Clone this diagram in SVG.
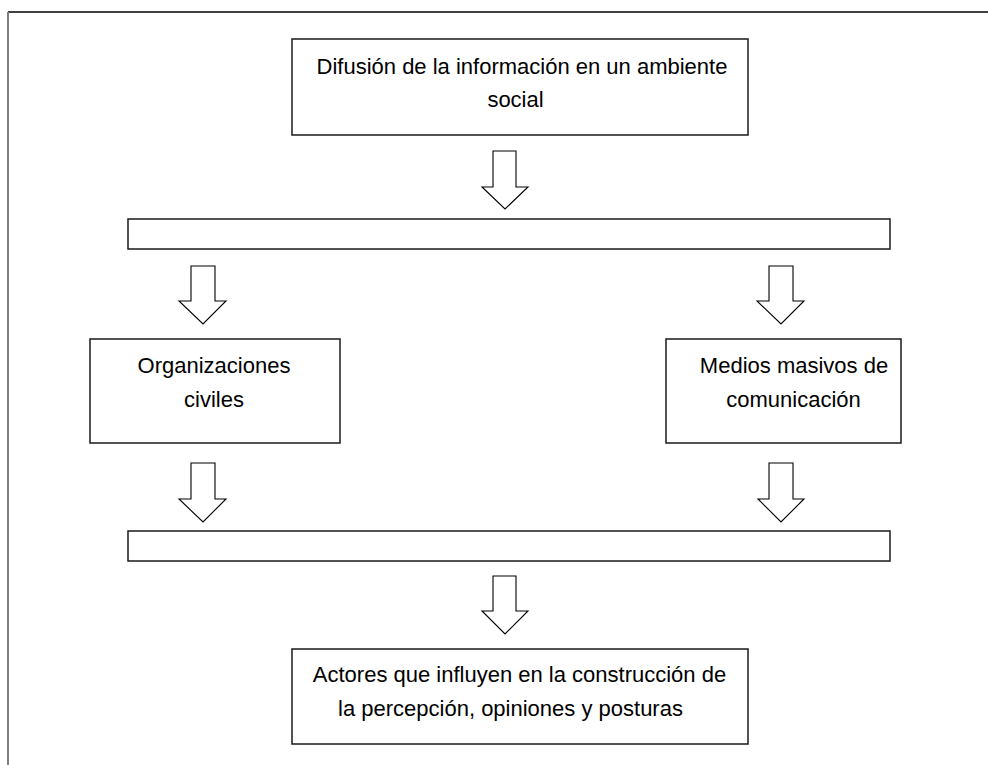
<svg xmlns="http://www.w3.org/2000/svg" width="988" height="765" viewBox="0 0 988 765">
<style>
.box{fill:#fff;stroke:#1a1a1a;stroke-width:1.5}
.arr{fill:#fff;stroke:#000;stroke-width:1.1;stroke-linejoin:miter}
.t{font-family:"Liberation Sans",Arial,sans-serif;font-size:22px;fill:#000;text-anchor:middle}
</style>
<rect width="988" height="765" fill="#fff"/>
<g id="frame">
<line x1="8" y1="12" x2="988" y2="12" stroke="#000" stroke-width="1.5"/>
<line x1="8" y1="12" x2="8" y2="765" stroke="#808080" stroke-width="2"/>
</g>
<g id="connectors">
<polygon class="arr" points="493,151 516,151 516,187 528,187 505,209 482,187 493,187"/>
<polygon class="arr" points="191,266 215,266 215,301 226,301 203,324 179,301 191,301"/>
<polygon class="arr" points="769,266 793,266 793,301 804,301 781,324 757,301 769,301"/>
<polygon class="arr" points="191,463 215,463 215,499 226,499 203,522 179,499 191,499"/>
<polygon class="arr" points="769,463 793,463 793,499 804,499 781,522 758,499 769,499"/>
<polygon class="arr" points="493,576 516,576 516,611 528,611 505,634 482,611 493,611"/>
</g>
<g id="node-difusion">
<rect class="box" x="292" y="39" width="456" height="96"/>
<text class="t" x="522" y="74">Difusión de la información en un ambiente</text>
<text class="t" x="515.5" y="107">social</text>
</g>
<g id="node-bar1">
<rect class="box" x="128" y="219" width="762" height="30"/>
</g>
<g id="node-organizaciones">
<rect class="box" x="90" y="339" width="250" height="104"/>
<text class="t" x="214" y="373">Organizaciones</text>
<text class="t" x="214" y="407">civiles</text>
</g>
<g id="node-medios">
<rect class="box" x="666" y="339" width="235" height="104"/>
<text class="t" x="794" y="373">Medios masivos de</text>
<text class="t" x="793.5" y="407">comunicación</text>
</g>
<g id="node-bar2">
<rect class="box" x="128" y="531" width="762" height="30"/>
</g>
<g id="node-actores">
<rect class="box" x="292" y="649" width="456" height="95"/>
<text class="t" x="519.5" y="682">Actores que influyen en la construcción de</text>
<text class="t" x="510.5" y="716">la percepción, opiniones y posturas</text>
</g>
</svg>
